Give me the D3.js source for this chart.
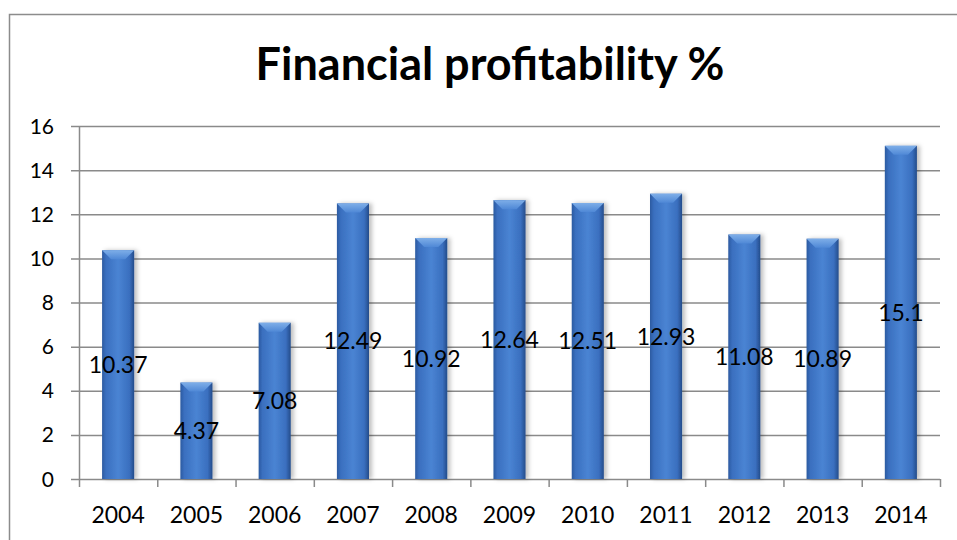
<!DOCTYPE html>
<html>
<head>
<meta charset="utf-8">
<script src="https://cdn.jsdelivr.net/npm/d3@7"></script>
<style>
  body { margin: 0; background: #fff; }
  svg { display: block; font-family: Lato, "Open Sans", sans-serif; }
</style>
</head>
<body>
<svg id="chart" width="957" height="540"></svg>
<script>
var years = ['2004', '2005', '2006', '2007', '2008', '2009', '2010', '2011', '2012', '2013', '2014'];
var values = [10.37, 4.37, 7.08, 12.49, 10.92, 12.64, 12.51, 12.93, 11.08, 10.89, 15.1];
var labels = ['10.37', '4.37', '7.08', '12.49', '10.92', '12.64', '12.51', '12.93', '11.08', '10.89', '15.1'];
var yTicks = [0, 2, 4, 6, 8, 10, 12, 14, 16];
var title = 'Financial profitability %';

var svg = d3.select('#chart'),
    pLeft = 79, pRight = 940, pTop = 126, pBottom = 479;

// outer frame, runs off the right and bottom edge like the picture
svg.append('rect')
    .attr('x', 9.5).attr('y', 14.5)
    .attr('width', 1000).attr('height', 600)
    .attr('fill', 'none').attr('stroke', '#8c8c8c').attr('stroke-width', 1.5);

svg.append('text')
    .attr('x', 490).attr('y', 80)
    .attr('text-anchor', 'middle')
    .attr('font-size', '45px').attr('font-weight', 'bold')
    .attr('fill', '#000')
    .text(title);

var x = d3.scaleBand().domain(years).range([pLeft, pRight]).paddingInner(0.59).paddingOuter(0.295);
var y = d3.scaleLinear().domain([0, 16]).range([pBottom, pTop]);

var defs = svg.append('defs');
var g1 = defs.append('linearGradient').attr('id', 'barFill').attr('x1', 0).attr('x2', 1).attr('y1', 0).attr('y2', 0);
[[0, '#2b5aa0'], [0.12, '#3a6fbf'], [0.5, '#4a84d3'], [0.85, '#3a6fbf'], [1, '#244c8a']].forEach(function(s){
    g1.append('stop').attr('offset', s[0]).attr('stop-color', s[1]);
});
var g2 = defs.append('linearGradient').attr('id', 'topFill').attr('x1', 0).attr('x2', 0).attr('y1', 0).attr('y2', 1);
g2.append('stop').attr('offset', 0).attr('stop-color', '#7eaee8');
g2.append('stop').attr('offset', 1).attr('stop-color', '#4f88d6');
var sh = defs.append('filter').attr('id', 'shadow').attr('x', '-30%').attr('width', '160%');
sh.append('feDropShadow').attr('dx', 3).attr('dy', 0).attr('stdDeviation', 2)
    .attr('flood-color', '#000').attr('flood-opacity', 0.25);

// gridlines
svg.append('g').selectAll('line').data(yTicks).enter().append('line')
    .attr('x1', pLeft - 8).attr('x2', pRight)
    .attr('y1', function(d){ return y(d) + 0.5; })
    .attr('y2', function(d){ return y(d) + 0.5; })
    .attr('stroke', '#8a8a8a').attr('stroke-width', 1.5);

// y axis line + labels
svg.append('line').attr('x1', pLeft + 0.5).attr('x2', pLeft + 0.5).attr('y1', pTop).attr('y2', pBottom + 0.5)
    .attr('stroke', '#8a8a8a').attr('stroke-width', 1.5);
svg.append('g').selectAll('text').data(yTicks).enter().append('text')
    .attr('x', 54).attr('y', function(d){ return y(d); })
    .attr('dy', '0.36em').attr('text-anchor', 'end')
    .attr('font-size', '21px').attr('fill', '#000')
    .text(function(d){ return d; });

// bottom category ticks
var edges = years.map(function(d){ return x(d) - x.step() * x.paddingInner() / 2; }).concat([pRight]);
svg.append('g').selectAll('line').data(edges).enter().append('line')
    .attr('x1', function(d){ return d + 0.5; }).attr('x2', function(d){ return d + 0.5; })
    .attr('y1', pBottom).attr('y2', pBottom + 8)
    .attr('stroke', '#8a8a8a').attr('stroke-width', 1.5);
svg.append('g').selectAll('text').data(years).enter().append('text')
    .attr('x', function(d){ return x(d) + x.bandwidth() / 2; })
    .attr('y', 523)
    .attr('text-anchor', 'middle')
    .attr('font-size', '23px').attr('fill', '#000')
    .text(function(d){ return d; });

// bars
var bars = svg.append('g').selectAll('g').data(values).enter().append('g');
bars.append('rect')
    .attr('x', function(d, i){ return x(years[i]); })
    .attr('y', function(d){ return y(d); })
    .attr('width', x.bandwidth())
    .attr('height', function(d){ return pBottom - y(d); })
    .attr('fill', 'url(#barFill)')
    .attr('filter', 'url(#shadow)');
bars.append('path')
    .attr('d', function(d, i){
        var x0 = x(years[i]), w = x.bandwidth(), y0 = y(d), b = 9;
        return 'M' + x0 + ',' + y0 + 'L' + (x0 + w) + ',' + y0 +
               'L' + (x0 + w - b) + ',' + (y0 + b) + 'L' + (x0 + b) + ',' + (y0 + b) + 'Z';
    })
    .attr('fill', 'url(#topFill)');

// data labels, centred on the bar
bars.append('text')
    .attr('x', function(d, i){ return x(years[i]) + x.bandwidth() / 2; })
    .attr('y', function(d){ return y(d / 2); })
    .attr('dy', '0.36em')
    .attr('text-anchor', 'middle')
    .attr('font-size', '23px').attr('fill', '#000')
    .text(function(d, i){ return labels[i]; });
</script>
</body>
</html>
